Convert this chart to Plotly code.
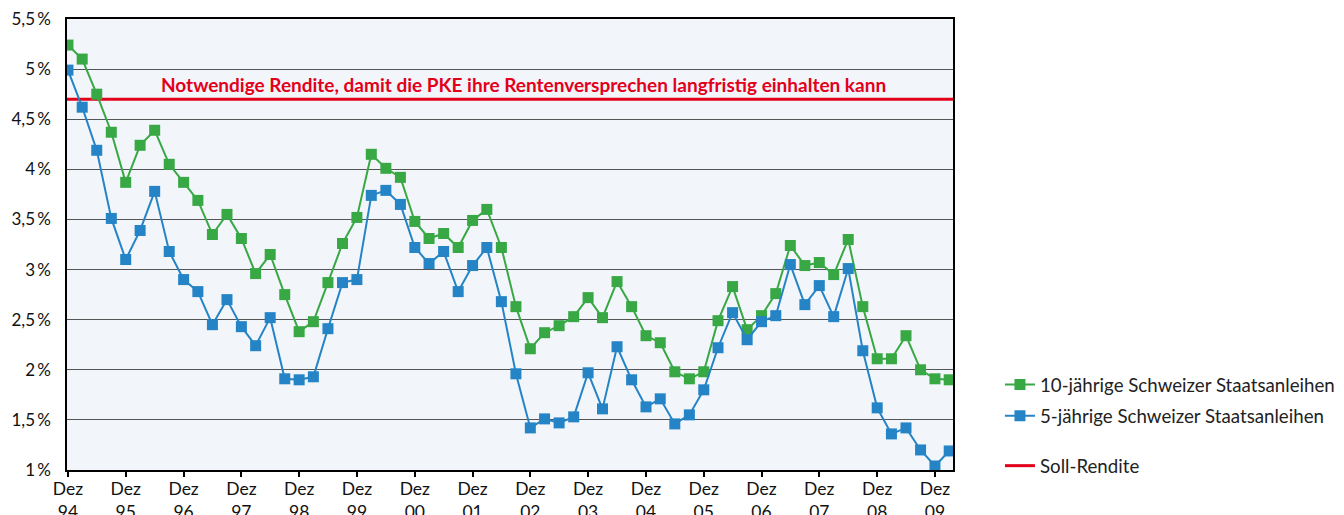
import plotly.graph_objects as go
import pandas as pd

# Quarterly observations, Dez 1994 .. Mär 2010
dates = pd.date_range("1994-12-01", periods=62, freq="3MS")

rend_10j = [5.24, 5.10, 4.75, 4.37, 3.87, 4.24, 4.39, 4.05, 3.87, 3.69,
            3.35, 3.55, 3.31, 2.96, 3.15, 2.75, 2.38, 2.48, 2.87, 3.26,
            3.52, 4.15, 4.01, 3.92, 3.48, 3.31, 3.36, 3.22, 3.49, 3.60,
            3.22, 2.63, 2.21, 2.37, 2.44, 2.53, 2.72, 2.52, 2.88, 2.63,
            2.34, 2.27, 1.98, 1.91, 1.98, 2.49, 2.83, 2.40, 2.54, 2.76,
            3.24, 3.04, 3.07, 2.95, 3.30, 2.63, 2.11, 2.11, 2.34, 2.00,
            1.91, 1.90]
rend_5j = [4.99, 4.62, 4.19, 3.51, 3.10, 3.39, 3.78, 3.18, 2.90, 2.78,
           2.45, 2.70, 2.43, 2.24, 2.52, 1.91, 1.90, 1.93, 2.41, 2.87,
           2.90, 3.74, 3.79, 3.65, 3.22, 3.06, 3.18, 2.78, 3.04, 3.22,
           2.68, 1.96, 1.42, 1.51, 1.47, 1.53, 1.97, 1.61, 2.23, 1.90,
           1.63, 1.71, 1.46, 1.55, 1.80, 2.22, 2.57, 2.30, 2.48, 2.54,
           3.05, 2.65, 2.84, 2.53, 3.01, 2.19, 1.62, 1.36, 1.42, 1.20,
           1.04, 1.19]
soll_rendite = 4.7

y_ticks = [1, 1.5, 2, 2.5, 3, 3.5, 4, 4.5, 5, 5.5]
y_labels = ["1\u2009%", "1,5\u2009%", "2\u2009%", "2,5\u2009%", "3\u2009%",
            "3,5\u2009%", "4\u2009%", "4,5\u2009%", "5\u2009%", "5,5\u2009%"]
x_years = list(range(1994, 2010))
x_ticks = [f"{y}-12-01" for y in x_years]
x_labels = [f"Dez<br>{str(y)[2:]}" for y in x_years]

GREEN = "#38a845"
BLUE = "#2484c6"
RED = "#e2001a"
FONT = "Lato"

fig = go.Figure()
fig.add_trace(go.Scatter(
    x=dates, y=rend_10j, mode="lines+markers",
    name="10-jährige Schweizer Staatsanleihen", legendgroup="a",
    line=dict(color=GREEN, width=2),
    marker=dict(symbol="square", size=11, color=GREEN)))
fig.add_trace(go.Scatter(
    x=dates, y=rend_5j, mode="lines+markers",
    name="5-jährige Schweizer Staatsanleihen", legendgroup="b",
    line=dict(color=BLUE, width=2),
    marker=dict(symbol="square", size=11, color=BLUE)))
fig.add_trace(go.Scatter(
    x=[None], y=[None], mode="lines", name="Soll-Rendite",
    legend="legend2",
    line=dict(color=RED, width=3)))

fig.add_hline(y=soll_rendite, line=dict(color=RED, width=3), layer="below")
fig.add_annotation(
    text="Notwendige Rendite, damit die PKE ihre Rentenversprechen langfristig einhalten kann",
    xref="paper", x=0.515, yref="y", y=soll_rendite, yanchor="bottom",
    yshift=1, showarrow=False,
    font=dict(family=FONT, size=19, color=RED, weight="bold"))

fig.update_layout(
    width=1336, height=507,
    margin=dict(l=59, r=391, t=11, b=45, autoexpand=False),
    paper_bgcolor="white", plot_bgcolor="#f2f5fa",
    font=dict(family=FONT, size=18, color="#1a1a1a"),
    showlegend=True,
    legend=dict(x=1.053, y=0.231, xanchor="left", yanchor="top",
                tracegroupgap=4, font=dict(size=18.7, color="#222"),
                bgcolor="rgba(0,0,0,0)"),
    legend2=dict(x=1.053, y=0.051, xanchor="left", yanchor="top",
                 font=dict(size=18.7, color="#222"),
                 bgcolor="rgba(0,0,0,0)"),
)
fig.update_xaxes(
    range=["1994-11-25", "2010-03-25"],
    tickvals=x_ticks, ticktext=x_labels, tickangle=0,
    showgrid=False, zeroline=False, automargin=False,
    ticklabeloverflow="allow", ticklabelstandoff=-3,
    showline=True, linecolor="black", linewidth=2, mirror=True,
    ticks="outside", ticklen=5, tickwidth=2, tickcolor="black",
    tickfont=dict(size=17.5, color="#111"))
fig.update_yaxes(
    range=[1, 5.5], tickvals=y_ticks, ticktext=y_labels,
    showgrid=True, gridcolor="#555", gridwidth=1, zeroline=False,
    automargin=False, ticklabeloverflow="allow",
    showline=True, linecolor="black", linewidth=1.5, mirror=True,
    ticks="", ticklabelstandoff=11,
    tickfont=dict(size=17, color="#111"))

fig.write_html("out.html")
